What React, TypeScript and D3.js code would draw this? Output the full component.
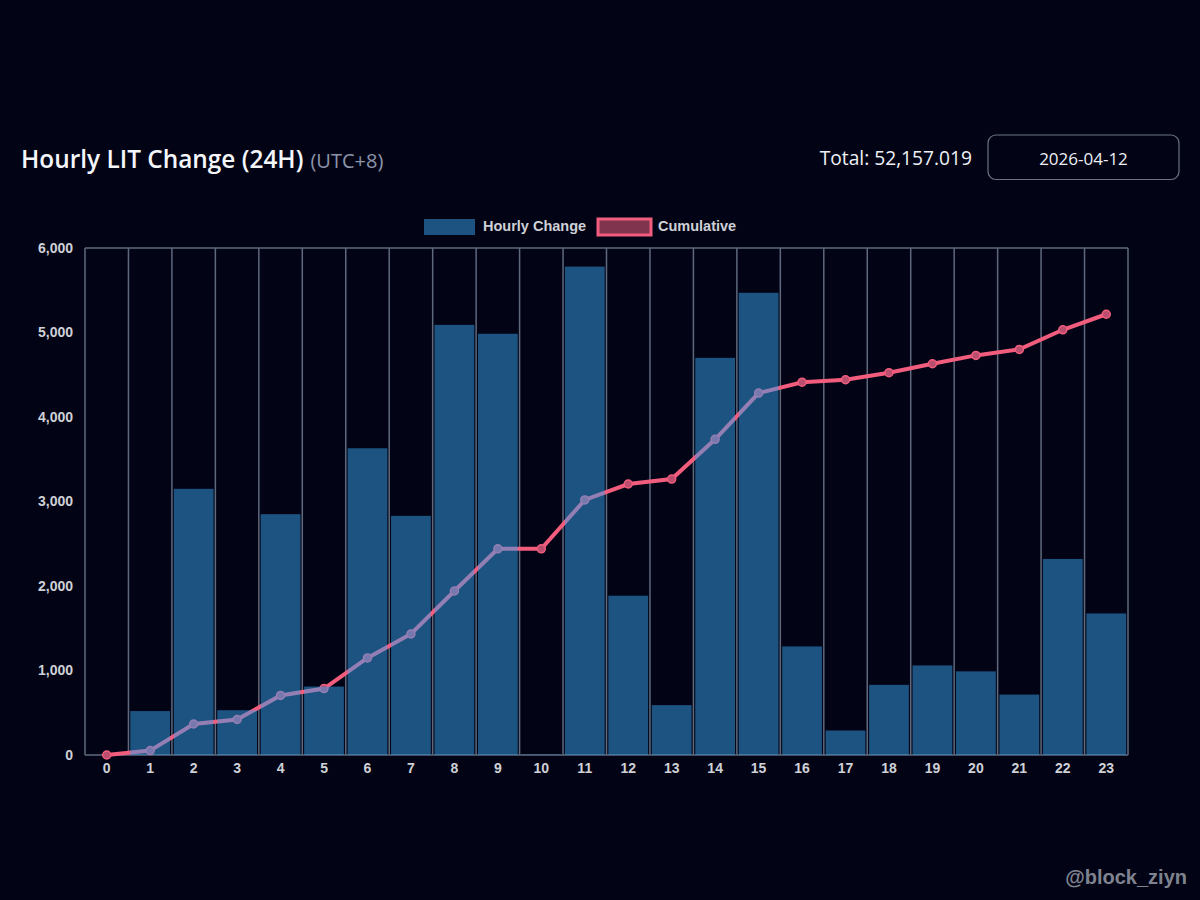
import React, { useEffect, useRef } from "react"
import * as d3 from "d3"

const hours = d3.range(0, 24).map(String)
const hourlyChange = [
  0, 520, 3150, 530, 2850, 810, 3630, 2830, 5090, 4985, 5, 5780, 1885, 590,
  4700, 5470, 1285, 290, 830, 1060, 990, 715, 2320, 1675,
]
const cumulative = [
  0, 52, 367, 420, 705, 786, 1149, 1432, 1941, 2440, 2440, 3018, 3207, 3266,
  3736, 4283, 4412, 4441, 4524, 4630, 4729, 4800, 5032, 5216,
]
const yTicks = [0, 1000, 2000, 3000, 4000, 5000, 6000]

const width = 1200
const height = 900
const margin = { top: 248, right: 72, bottom: 145, left: 85 }
const bg = "#020416"
const gridColor = "#5f697e"
const uiFont = "'Open Sans', 'Noto Sans', sans-serif"
const chartFont = "'Liberation Sans', Arial, sans-serif"

const App: React.FunctionComponent = () => {
  const svgRef = useRef<SVGSVGElement>(null)

  useEffect(() => {
    const svg = d3.select(svgRef.current)
    svg.selectAll("*").remove()
    drawChart(svg)
  }, [])

  return (
    <svg
      ref={svgRef}
      width={width}
      height={height}
      style={{ position: "absolute", left: 0, top: 0, background: bg }}
    />
  )
}

function drawChart(svg) {
  const x = d3
    .scaleBand()
    .domain(hours)
    .range([margin.left, width - margin.right])
    .paddingInner(0.085)
    .paddingOuter(0.0425)
  const y = d3
    .scaleLinear()
    .domain([0, 6000])
    .range([height - margin.bottom, margin.top])
  const step = x.step()
  const cx = (h: string) => x(h) + x.bandwidth() / 2

  // header
  const title = svg
    .append("text")
    .attr("x", 21)
    .attr("y", 168)
    .attr("font-family", uiFont)
    .attr("font-size", 24.4)
    .attr("font-weight", 600)
    .attr("fill", "#f4f6fa")
    .text("Hourly LIT Change (24H)")
  title
    .append("tspan")
    .attr("dx", 7)
    .attr("font-size", 20)
    .attr("font-weight", 400)
    .attr("fill", "#8d95ab")
    .text("(UTC+8)")

  svg
    .append("text")
    .attr("x", 972)
    .attr("y", 165)
    .attr("text-anchor", "end")
    .attr("font-family", uiFont)
    .attr("font-size", 19.2)
    .attr("fill", "#eef0f5")
    .text("Total: 52,157.019")

  svg
    .append("rect")
    .attr("x", 988)
    .attr("y", 135)
    .attr("width", 191)
    .attr("height", 44.5)
    .attr("rx", 8)
    .attr("fill", bg)
    .attr("stroke", "#6b7385")
    .attr("stroke-width", 1.2)
  svg
    .append("text")
    .attr("x", 1083.5)
    .attr("y", 164.5)
    .attr("text-anchor", "middle")
    .attr("font-family", uiFont)
    .attr("font-size", 17)
    .attr("fill", "#eef0f5")
    .text("2026-04-12")

  // legend
  const legend = svg
    .append("g")
    .attr("font-family", chartFont)
    .attr("font-size", 14.5)
    .attr("font-weight", 700)
    .attr("fill", "#cfd1d6")
  legend
    .append("rect")
    .attr("x", 424)
    .attr("y", 219)
    .attr("width", 51)
    .attr("height", 16)
    .attr("fill", "rgba(54,162,235,0.5)")
  legend.append("text").attr("x", 483).attr("y", 231).text("Hourly Change")
  legend
    .append("rect")
    .attr("x", 598)
    .attr("y", 219)
    .attr("width", 53)
    .attr("height", 16)
    .attr("fill", "rgba(255,99,132,0.5)")
    .attr("stroke", "#f25c7d")
    .attr("stroke-width", 3)
  legend.append("text").attr("x", 658).attr("y", 231).text("Cumulative")

  // vertical grid, on the edges of each band
  const plot = svg.append("g")
  plot
    .selectAll("line.grid")
    .data(d3.range(0, hours.length + 1))
    .join("line")
    .attr("class", "grid")
    .attr("x1", d => margin.left + d * step)
    .attr("x2", d => margin.left + d * step)
    .attr("y1", y(6000))
    .attr("y2", y(0))
    .attr("stroke", gridColor)
    .attr("stroke-width", 1.5)
  plot
    .selectAll("line.edge")
    .data([6000, 0])
    .join("line")
    .attr("class", "edge")
    .attr("x1", margin.left)
    .attr("x2", width - margin.right)
    .attr("y1", d => y(d))
    .attr("y2", d => y(d))
    .attr("stroke", gridColor)
    .attr("stroke-width", 1.5)

  // line goes under the translucent bars, so it turns purple where they cross
  const line = d3
    .line<number>()
    .x((d, i) => cx(hours[i]))
    .y(d => y(d))
  plot
    .append("path")
    .attr("d", line(cumulative))
    .attr("fill", "none")
    .attr("stroke", "#f25c7d")
    .attr("stroke-width", 4)
  plot
    .selectAll("circle")
    .data(cumulative)
    .join("circle")
    .attr("cx", (d, i) => cx(hours[i]))
    .attr("cy", d => y(d))
    .attr("r", 4)
    .attr("fill", "#b94e6e")
    .attr("stroke", "#f25c7d")
    .attr("stroke-width", 1.5)

  plot
    .selectAll("rect")
    .data(hourlyChange)
    .join("rect")
    .attr("x", (d, i) => x(hours[i]))
    .attr("y", d => y(d))
    .attr("width", x.bandwidth())
    .attr("height", d => y(0) - y(d))
    .attr("fill", "rgba(54,162,235,0.5)")

  // axes
  const yAxis = svg
    .append("g")
    .attr("transform", `translate(${margin.left - 12},0)`)
    .call(
      d3
        .axisLeft(y)
        .tickValues(yTicks)
        .tickSize(0)
        .tickPadding(0)
        .tickFormat(d3.format(","))
    )
  const xAxis = svg
    .append("g")
    .attr("transform", `translate(0,${height - margin.bottom + 5})`)
    .call(d3.axisBottom(x).tickSize(0).tickPadding(0))
  for (const axis of [xAxis, yAxis]) {
    axis.select(".domain").remove()
    axis
      .selectAll("text")
      .attr("font-family", chartFont)
      .attr("font-size", 14)
      .attr("font-weight", 700)
      .attr("fill", "#cfd1d6")
  }
  xAxis.selectAll("text").attr("dy", "0.9em")

  svg
    .append("text")
    .attr("x", 1187)
    .attr("y", 884)
    .attr("text-anchor", "end")
    .attr("font-family", chartFont)
    .attr("font-size", 20)
    .attr("font-weight", 700)
    .attr("fill", "#7f838f")
    .text("@block_ziyn")
}

export default App
